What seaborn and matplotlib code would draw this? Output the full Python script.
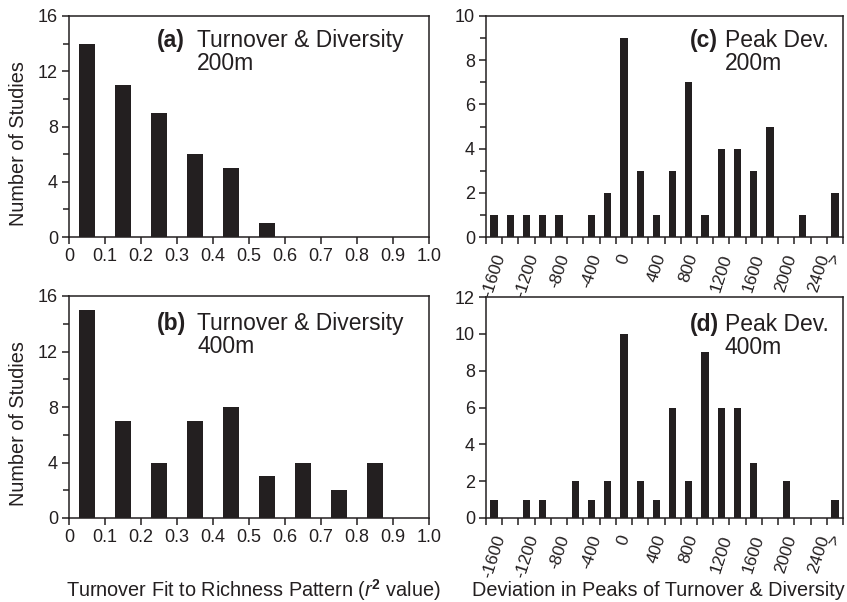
import numpy as np
import pandas as pd
import matplotlib
matplotlib.use("Agg")
import matplotlib.pyplot as plt
from matplotlib.ticker import MultipleLocator
import seaborn as sns

# ---------------- data ----------------
r2_bins = [0.05, 0.15, 0.25, 0.35, 0.45, 0.55, 0.65, 0.75, 0.85, 0.95]
fit_200m = [14, 11, 9, 6, 5, 1, 0, 0, 0, 0]
fit_400m = [15, 7, 4, 7, 8, 3, 4, 2, 4, 0]
r2_ticks = [0.0, 0.1, 0.2, 0.3, 0.4, 0.5, 0.6, 0.7, 0.8, 0.9, 1.0]
r2_ticklabels = ["0", "0.1", "0.2", "0.3", "0.4", "0.5", "0.6", "0.7", "0.8", "0.9", "1.0"]

dev_bins = ["-1600", "-1400", "-1200", "-1000", "-800", "-600", "-400", "-200",
            "0", "200", "400", "600", "800", "1000", "1200", "1400", "1600",
            "1800", "2000", "2200", "2400", ">"]
peak_200m = [1, 1, 1, 1, 1, 0, 1, 2, 9, 3, 1, 3, 7, 1, 4, 4, 3, 5, 0, 1, 0, 2]
peak_400m = [1, 0, 1, 1, 0, 2, 1, 2, 10, 2, 1, 6, 2, 9, 6, 6, 3, 0, 2, 0, 0, 1]
dev_shown = ["-1600", "-1200", "-800", "-400", "0", "400", "800", "1200",
             "1600", "2000", "2400", ">"]

# ---------------- style ----------------
sns.set_style("ticks")
plt.rcParams["font.family"] = ["Liberation Sans", "DejaVu Sans"]
plt.rcParams["mathtext.fontset"] = "custom"
plt.rcParams["mathtext.rm"] = "Liberation Sans"
plt.rcParams["mathtext.it"] = "Liberation Sans:italic"
plt.rcParams["mathtext.bf"] = "Liberation Sans:bold"

BAR = "#231f20"
TXT = "#231f20"
TICK_FS = 13
LAB_FS = 14.3
TITLE_FS = 16.5

fig = plt.figure(figsize=(8.47, 6.02), dpi=100)
W, H = 847.0, 602.0


def make_ax(l, t, r, b):
    return fig.add_axes([l / W, 1 - b / H, (r - l) / W, (b - t) / H])


ax_a = make_ax(69, 16, 429, 237)
ax_b = make_ax(69, 296, 429, 518)
ax_c = make_ax(486, 16, 843, 237)
ax_d = make_ax(486, 297, 843, 518)


def style_ax(ax):
    for s in ax.spines.values():
        s.set_visible(True)
        s.set_linewidth(1.1)
        s.set_color(TXT)
    ax.tick_params(which="both", direction="out", color=TXT, width=1.1,
                   labelsize=TICK_FS, labelcolor=TXT)
    ax.tick_params(which="major", length=5, pad=3)
    ax.tick_params(which="minor", length=4)
    ax.set_xlabel("")
    ax.set_ylabel("")


# ---- left panels (r2 fit) ----
for ax, vals in ((ax_a, fit_200m), (ax_b, fit_400m)):
    df = pd.DataFrame({"r2": r2_bins, "n": vals})
    sns.barplot(data=df, x="r2", y="n", native_scale=True, width=0.42,
                color=BAR, saturation=1, linewidth=0, ax=ax)
    ax.set_xlim(0, 1.0)
    ax.set_ylim(0, 16)
    ax.set_xticks(r2_ticks)
    ax.set_xticklabels(r2_ticklabels)
    ax.set_yticks([0, 4, 8, 12, 16])
    ax.yaxis.set_minor_locator(MultipleLocator(2))
    style_ax(ax)

# ---- right panels (peak deviation) ----
for ax, vals, ymax in ((ax_c, peak_200m, 10), (ax_d, peak_400m, 12)):
    df = pd.DataFrame({"dev": dev_bins, "n": vals})
    sns.barplot(data=df, x="dev", y="n", order=dev_bins, width=0.45,
                color=BAR, saturation=1, linewidth=0, ax=ax)
    ax.set_xlim(-0.5, len(dev_bins) - 0.5)
    ax.set_ylim(0, ymax)
    edges = np.arange(len(dev_bins) + 1) - 0.5
    ax.set_xticks(edges)
    ax.set_xticklabels([""] * len(edges))
    pos = [dev_bins.index(s) for s in dev_shown]
    ax.set_xticks(pos, dev_shown, minor=True)
    ax.set_yticks(list(range(0, ymax + 1, 2)))
    style_ax(ax)
    ax.tick_params(axis="x", which="minor", length=0, pad=11, labelsize=12.5)
    for lab in ax.get_xticklabels(minor=True):
        lab.set_rotation(72)
        lab.set_ha("center")
        lab.set_va("top")
    if ymax == 10:
        ax.yaxis.set_minor_locator(MultipleLocator(1))
    else:
        ax.yaxis.set_minor_locator(plt.NullLocator())


# ---- panel annotations ----
def annotate(ax, tag, line1, line2, xtag, xtxt, y1, y2):
    ax.text(xtag, y1, tag, transform=ax.transAxes, fontsize=TITLE_FS,
            fontweight="bold", color=TXT, ha="left", va="baseline")
    ax.text(xtxt, y1, line1, transform=ax.transAxes, fontsize=TITLE_FS,
            color=TXT, ha="left", va="baseline")
    ax.text(xtxt, y2, line2, transform=ax.transAxes, fontsize=TITLE_FS,
            color=TXT, ha="left", va="baseline")


annotate(ax_a, "(a)", "Turnover & Diversity", "200m", 0.244, 0.356, 0.861, 0.756)
annotate(ax_b, "(b)", "Turnover & Diversity", "400m", 0.244, 0.356, 0.847, 0.743)
annotate(ax_c, "(c)", "Peak Dev.", "200m", 0.571, 0.669, 0.861, 0.756)
annotate(ax_d, "(d)", "Peak Dev.", "400m", 0.571, 0.669, 0.847, 0.743)

# ---- axis labels ----
fig.text(18 / W, 1 - 144 / H, "Number of Studies", rotation=90, fontsize=LAB_FS,
         color=TXT, ha="center", va="center")
fig.text(18 / W, 1 - 424 / H, "Number of Studies", rotation=90, fontsize=LAB_FS,
         color=TXT, ha="center", va="center")
fig.text(253 / W, 1 - 590 / H,
         r"Turnover Fit to Richness Pattern ($\mathit{r}^{\mathbf{2}}$ value)",
         fontsize=LAB_FS, color=TXT, ha="center", va="center")
fig.text(658 / W, 1 - 590 / H, "Deviation in Peaks of Turnover & Diversity",
         fontsize=LAB_FS, color=TXT, ha="center", va="center")

fig.savefig("out.png", dpi=100)
